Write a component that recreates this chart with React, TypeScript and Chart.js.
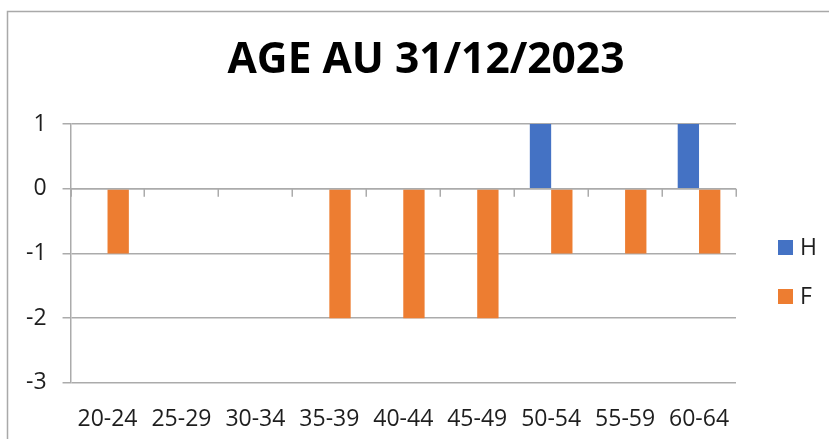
import React, { useEffect, useRef } from "react";
import { Chart, registerables } from "chart.js";

Chart.register(...registerables);

const categories = ["20-24", "25-29", "30-34", "35-39", "40-44", "45-49", "50-54", "55-59", "60-64"];
const seriesH = [0, 0, 0, 0, 0, 0, 1, 0, 1];
const seriesF = [-1, 0, 0, -2, -2, -2, -1, -1, -1];
const seriesNames = ["H", "F"];
const seriesColors = ["#4472C4", "#ED7D31"];
const yTicks = [-3, -2, -1, 0, 1];
const titleText = "AGE AU 31/12/2023";

const FONT = "'Open Sans', sans-serif";
const GRID = "#ABABAB";
const TEXT = "#1e1e1e";

const framePlugin = {
  id: "frame",
  beforeDraw(chart: any) {
    const ctx = chart.ctx;
    ctx.save();
    ctx.fillStyle = "#ffffff";
    ctx.fillRect(0, 0, chart.width, chart.height);
    ctx.strokeStyle = "#A9A9A9";
    ctx.lineWidth = 1.5;
    ctx.strokeRect(7.5, 11.5, chart.width + 20, chart.height + 20);
    ctx.fillStyle = "#000";
    ctx.font = `bold 42.5px ${FONT}`;
    ctx.textAlign = "center";
    ctx.textBaseline = "middle";
    ctx.fillText(titleText, 426, 61);
    ctx.restore();
  },
};

const zeroTicksPlugin = {
  id: "zeroTicks",
  afterDatasetsDraw(chart: any) {
    const ctx = chart.ctx;
    const xs = chart.scales.x;
    const ys = chart.scales.y;
    const y0 = ys.getPixelForValue(0);
    const half = (xs.getPixelForValue(1) - xs.getPixelForValue(0)) / 2;
    ctx.save();
    ctx.strokeStyle = GRID;
    ctx.lineWidth = 1.5;
    ctx.beginPath();
    for (let i = 0; i <= categories.length; i++) {
      const px = Math.round(xs.getPixelForValue(0) - half + i * 2 * half) + 0.25;
      ctx.moveTo(px, y0);
      ctx.lineTo(px, y0 + 8);
    }
    ctx.moveTo(chart.chartArea.left, y0);
    ctx.lineTo(chart.chartArea.right, y0);
    ctx.stroke();
    ctx.restore();
  },
};

const legendPlugin = {
  id: "sideLegend",
  afterDraw(chart: any) {
    const ctx = chart.ctx;
    const area = chart.chartArea;
    const x = area.right + 42;
    ctx.save();
    chart.data.datasets.forEach((ds: any, i: number) => {
      const y = 247.5 + i * 49;
      ctx.fillStyle = ds.backgroundColor;
      ctx.fillRect(x, y - 7.5, 15, 15);
      ctx.fillStyle = TEXT;
      ctx.font = `23px ${FONT}`;
      ctx.textBaseline = "middle";
      ctx.textAlign = "left";
      ctx.fillText(ds.label, x + 22, y + 1);
    });
    ctx.restore();
  },
};

export default function App() {
  const ref = useRef<HTMLCanvasElement>(null);
  useEffect(() => {
    if (!ref.current) return;
    const chart = new Chart(ref.current, {
      type: "bar",
      data: {
        labels: categories,
        datasets: [
          { label: seriesNames[0], data: seriesH, backgroundColor: seriesColors[0], borderWidth: 0 },
          { label: seriesNames[1], data: seriesF, backgroundColor: seriesColors[1], borderWidth: 0 },
        ],
      },
      options: {
        responsive: false,
        animation: false,
        categoryPercentage: 0.577,
        barPercentage: 1,
        layout: { padding: { left: 10, right: 93, top: 124, bottom: 0 } },
        plugins: {
          legend: { display: false },
          tooltip: { enabled: false },
          title: { display: false },
        },
        scales: {
          y: {
            min: -3,
            max: 1,
            afterBuildTicks: (s: any) => {
              s.ticks = yTicks.map((v) => ({ value: v }));
            },
            ticks: { font: { family: FONT, size: 23 }, color: TEXT, padding: 16 },
            grid: { color: GRID, lineWidth: 1.5, tickLength: 8 },
            border: { display: true, color: GRID, width: 1.5 },
          },
          x: {
            position: "bottom",
            offset: true,
            grid: { display: false },
            border: { display: false },
            ticks: { font: { family: FONT, size: 23 }, color: TEXT, padding: 14.5 },
            afterFit: (s: any) => {
              s.height = s.height - 8.5;
            },
          },
        },
      },
      plugins: [framePlugin, zeroTicksPlugin, legendPlugin],
    });
    return () => chart.destroy();
  }, []);
  return (
    <div style={{ position: "fixed", left: 0, top: 0, width: 829, height: 439 }}>
      <canvas ref={ref} width={829} height={439} style={{ display: "block" }} />
    </div>
  );
}
